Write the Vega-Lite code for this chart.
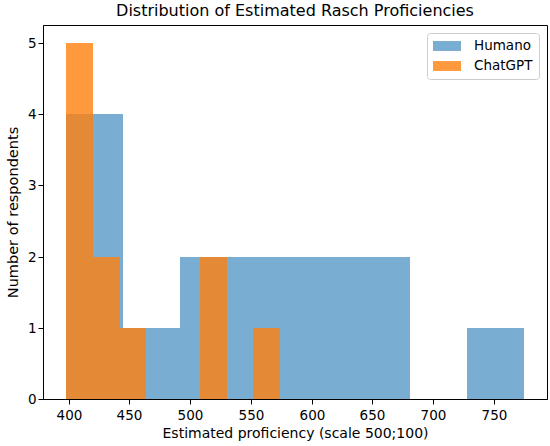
{
  "$schema": "https://vega.github.io/schema/vega-lite/v6.json",
  "width": 504,
  "height": 374,
  "autosize": "none",
  "padding": {"left": 43, "top": 25, "right": 3, "bottom": 47},
  "title": {
    "text": "Distribution of Estimated Rasch Proficiencies",
    "font": "DejaVu Sans",
    "fontSize": 16,
    "fontWeight": "normal",
    "color": "black",
    "offset": 6
  },
  "data": {
    "values": [
      {"group": "Humano", "start": 397.8, "end": 444.9, "count": 4},
      {"group": "Humano", "start": 444.9, "end": 492.0, "count": 1},
      {"group": "Humano", "start": 492.0, "end": 539.2, "count": 2},
      {"group": "Humano", "start": 539.2, "end": 586.3, "count": 2},
      {"group": "Humano", "start": 586.3, "end": 633.4, "count": 2},
      {"group": "Humano", "start": 633.4, "end": 680.5, "count": 2},
      {"group": "Humano", "start": 680.5, "end": 727.6, "count": 0},
      {"group": "Humano", "start": 727.6, "end": 774.7, "count": 1},
      {"group": "ChatGPT", "start": 397.8, "end": 419.8, "count": 5},
      {"group": "ChatGPT", "start": 419.8, "end": 441.9, "count": 2},
      {"group": "ChatGPT", "start": 441.9, "end": 463.9, "count": 1},
      {"group": "ChatGPT", "start": 463.9, "end": 486.0, "count": 0},
      {"group": "ChatGPT", "start": 486.0, "end": 508.0, "count": 0},
      {"group": "ChatGPT", "start": 508.0, "end": 530.1, "count": 2},
      {"group": "ChatGPT", "start": 530.1, "end": 552.1, "count": 0},
      {"group": "ChatGPT", "start": 552.1, "end": 574.2, "count": 1}
    ]
  },
  "mark": {"type": "rect"},
  "encoding": {
    "x": {
      "field": "start",
      "type": "quantitative",
      "title": "Estimated proficiency (scale 500;100)",
      "scale": {"domain": [378.9, 793.6], "nice": false, "zero": false, "round": true},
      "axis": {"values": [400, 450, 500, 550, 600, 650, 700, 750], "labelPadding": 4, "titlePadding": 5}
    },
    "x2": {"field": "end"},
    "y": {
      "field": "count",
      "type": "quantitative",
      "title": "Number of respondents",
      "scale": {"domain": [0, 5.25], "nice": false, "round": true},
      "axis": {"values": [0, 1, 2, 3, 4, 5], "labelPadding": 2, "titlePadding": 7, "titleFontSize": 14.5}
    },
    "color": {
      "field": "group",
      "type": "nominal",
      "sort": ["Humano", "ChatGPT"],
      "scale": {"domain": ["Humano", "ChatGPT"], "range": ["#1f77b4", "#ff7f0e"]},
      "legend": {
        "title": null,
        "orient": "top-right",
        "offset": 8,
        "symbolType": "M-1,-0.71H3V0.71H-1Z",
        "symbolSize": 196,
        "symbolStrokeWidth": 0,
        "labelFont": "DejaVu Sans",
        "labelFontSize": 13.5,
        "labelColor": "black",
        "labelOffset": 27,
        "rowPadding": 6,
        "padding": 6,
        "strokeColor": "#cccccc",
        "cornerRadius": 3,
        "fillColor": "white",
        "encode": {
          "symbols": {
            "update": {
              "opacity": {"value": 1},
              "fillOpacity": {"value": 1},
              "fill": {"signal": "datum.value === 'Humano' ? '#79add2' : '#ff993e'"}
            }
          }
        }
      }
    },
    "opacity": {
      "field": "group",
      "type": "nominal",
      "scale": {"domain": ["Humano", "ChatGPT"], "range": [0.6, 0.8]},
      "legend": null
    }
  },
  "config": {
    "view": {"stroke": "black", "strokeWidth": 1},
    "axis": {
      "grid": false,
      "domainColor": "black",
      "tickColor": "black",
      "tickSize": 5,
      "labelFont": "DejaVu Sans",
      "labelFontSize": 13.5,
      "labelColor": "black",
      "titleFont": "DejaVu Sans",
      "titleFontSize": 14,
      "titleFontWeight": "normal",
      "titleColor": "black"
    }
  }
}
